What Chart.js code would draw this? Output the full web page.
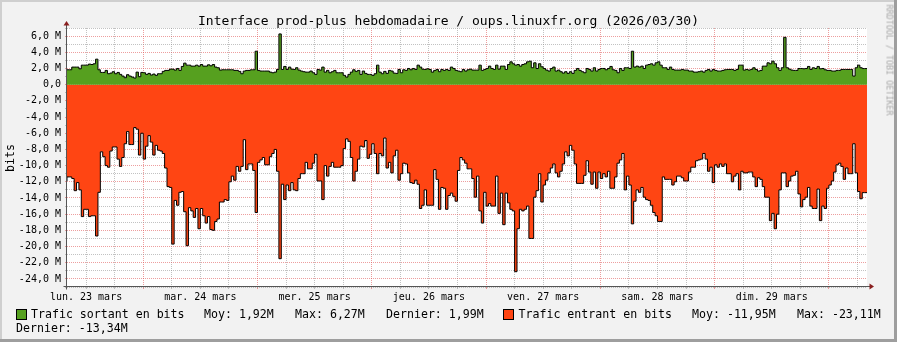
<!DOCTYPE html>
<html>
<head>
<meta charset="utf-8">
<script src="https://cdn.jsdelivr.net/npm/chart.js@4.4.1/dist/chart.umd.min.js"></script>
<style>
  html, body { margin: 0; padding: 0; background: #f2f2f2; }
  #frame { position: relative; width: 897px; height: 342px; overflow: hidden; background: #f2f2f2;
           font-family: "DejaVu Sans Mono", monospace; color: #000; }
  #c { position: absolute; left: 0; top: 0; }
  .t { position: absolute; white-space: pre; font-size: 11.6px; line-height: 12px; }
  .box { position: absolute; width: 9px; height: 9px; border: 1px solid #000; }
  .shade { position: absolute; }
</style>
</head>
<body>
<div id="frame">
  <canvas id="c" width="897" height="342"></canvas>
  <div class="shade" style="left:0;top:0;width:897px;height:2px;background:#cfcfcf"></div>
  <div class="shade" style="left:0;top:0;width:2px;height:342px;background:#cfcfcf"></div>
  <div class="shade" style="left:894px;top:0;width:3px;height:342px;background:#9e9e9e"></div>
  <div class="shade" style="left:0;top:339px;width:897px;height:3px;background:#9e9e9e"></div>

  <div id="title" style="position:absolute;left:0;top:12.5px;width:897px;text-align:center;font-size:13px;line-height:15px;white-space:pre"></div>
  <div id="ylab" style="position:absolute;left:9.5px;top:158px;font-size:11.6px;line-height:12px;transform:translate(-50%,-50%) rotate(-90deg)">bits</div>
  <div style="position:absolute;left:889px;top:60px;font-size:8.4px;line-height:9px;color:#a8a8a8;white-space:pre;transform:translate(-50%,-50%) rotate(90deg)">RRDTOOL / TOBI OETIKER</div>

  <div class="box" style="left:16px;top:309px;background:#56a01f"></div>
  <div class="t" id="l1" style="left:31px;top:307.5px"></div>
  <div class="t" id="l1a" style="left:204px;top:307.5px"></div>
  <div class="t" id="l1b" style="left:295px;top:307.5px"></div>
  <div class="t" id="l1c" style="left:386px;top:307.5px"></div>
  <div class="box" style="left:503px;top:309px;background:#ff4513"></div>
  <div class="t" id="l2" style="left:518.5px;top:307.5px"></div>
  <div class="t" id="l2a" style="left:692px;top:307.5px"></div>
  <div class="t" id="l2b" style="left:797px;top:307.5px"></div>
  <div class="t" id="l2c" style="left:16px;top:321.7px"></div>
</div>
<script>
// week graph, one value every 30 minutes, starting Monday 08:00
const stepHours = 0.5;
const startHour = 8;
const dayLabels = ["lun. 23 mars", "mar. 24 mars", "mer. 25 mars", "jeu. 26 mars",
                   "ven. 27 mars", "sam. 28 mars", "dim. 29 mars"];

// Trafic sortant (M bits)
const outValues = [
  1.84,1.84,1.84,2.17,2.17,2.17,1.96,2.41,2.41,2.41,
  2.54,2.49,2.58,3.15,1.84,1.51,1.51,1.76,1.35,1.43,
  1.60,1.35,1.51,1.27,1.06,0.86,1.23,1.06,0.94,0.82,
  1.55,0.98,1.51,1.47,1.27,1.39,1.19,1.31,1.15,1.35,
  1.35,1.64,1.76,1.76,1.92,1.92,1.80,2.00,1.76,2.25,
  2.66,2.41,2.41,2.29,2.29,2.41,2.29,2.49,2.29,2.29,
  2.45,2.33,2.49,2.17,2.09,1.80,1.84,1.84,1.84,1.84,
  1.84,1.76,1.76,1.64,1.35,1.68,1.76,1.76,1.84,1.84,
  4.13,1.76,1.68,1.68,1.68,1.68,
  1.55,1.47,1.55,1.88,6.27,1.88,2.25,1.88,2.17,1.92,
  1.88,2.09,1.80,1.68,1.60,1.55,1.55,1.68,1.47,1.27,
  1.88,1.80,2.17,1.55,1.76,1.47,1.60,1.76,1.47,1.47,
  1.47,1.15,0.94,1.27,1.55,1.84,1.64,1.76,1.27,1.68,
  1.39,1.27,1.27,1.15,1.35,2.41,1.55,1.35,1.64,1.39,
  1.76,1.68,1.43,1.39,1.88,1.47,1.84,1.76,2.00,1.84,
  2.00,1.88,2.41,2.17,1.92,1.88,1.96,1.88,1.55,1.76,
  1.88,1.60,1.88,1.76,1.88,1.76,2.17,2.00,1.76,1.68,
  1.60,1.88,1.68,1.84,1.92,
  1.80,1.80,1.80,2.41,1.76,1.88,2.00,2.29,2.00,1.88,
  2.41,1.92,2.29,2.29,1.88,2.49,2.82,2.58,2.41,2.49,
  2.29,2.49,2.58,2.82,2.90,2.09,2.70,2.00,2.58,2.21,
  2.00,1.80,1.68,2.00,2.17,1.68,1.80,1.60,1.43,1.60,
  1.39,1.60,1.39,1.76,2.00,1.76,1.60,1.47,2.00,1.88,
  1.68,2.09,1.68,1.88,2.00,2.00,1.84,2.00,2.25,1.84,
  1.76,1.47,2.00,1.76,2.09,2.09,2.00,4.13,2.17,2.29,
  2.17,2.29,2.00,2.41,2.49,2.58,2.41,2.70,2.82,2.41,
  2.09,2.09,1.88,2.17,1.88,1.80,1.80,1.80,
  1.88,1.80,1.80,1.68,1.68,1.55,1.55,1.60,1.68,1.55,
  1.76,1.88,1.68,1.88,1.76,1.68,1.68,1.76,1.84,1.88,
  1.88,1.88,1.76,1.88,2.41,2.41,1.80,1.88,1.80,1.88,
  2.09,1.88,1.68,1.76,2.29,2.29,2.70,2.58,2.90,2.58,
  2.09,1.76,2.09,5.85,2.09,1.92,1.80,1.76,1.76,2.00,
  2.00,1.96,2.00,2.25,1.88,2.09,2.00,2.25,1.96,2.00,
  1.84,1.76,1.76,1.68,1.68,1.76,1.76,1.88,1.88,1.88,
  1.88,1.88,1.06,2.09,2.41,2.09,1.99
];

// Trafic entrant (M bits, drawn negative)
const inValues = [
  -11.9,-11.4,-11.4,-11.6,-13.1,-12.1,-13.0,-16.3,-15.4,-15.4,
  -16.3,-16.2,-16.2,-18.7,-13.3,-8.3,-8.9,-10.0,-10.2,-8.2,
  -7.7,-7.7,-9.2,-10.1,-9.0,-7.3,-5.8,-7.4,-7.4,-5.3,
  -5.5,-8.7,-6.0,-9.2,-7.6,-6.3,-7.1,-8.7,-7.5,-8.1,
  -8.2,-8.5,-10.3,-12.6,-12.7,-19.7,-14.3,-14.9,-13.3,-13.2,
  -15.7,-19.9,-15.2,-15.6,-16.4,-15.3,-17.8,-15.3,-16.2,-17.1,
  -16.3,-17.9,-18.0,-16.9,-16.6,-14.5,-14.5,-14.2,-14.3,-12.0,
  -11.3,-11.8,-10.1,-10.7,-10.1,-6.8,-10.5,-9.8,-9.8,-10.6,
  -15.8,-9.6,-9.3,-9.0,-9.9,-9.9,
  -8.9,-8.5,-8.0,-10.7,-21.5,
  -12.3,-14.2,-12.4,-13.1,-12.1,-13.0,-13.1,-11.6,-11.0,-11.0,
  -9.6,-10.4,-10.4,-9.7,-8.6,-11.9,-11.9,-14.2,-10.0,-11.3,
  -10.1,-9.6,-10.2,-10.2,-10.2,-10.0,-7.9,-6.7,-7.0,-9.0,
  -11.9,-10.7,-9.2,-7.6,-7.7,-6.9,-9.1,-8.6,-7.3,-8.5,
  -11.0,-8.5,-8.8,-6.6,-10.3,-9.6,-10.9,-8.8,-8.1,-11.8,
  -11.0,-9.7,-9.8,-10.9,-12.1,-12.2,-11.8,-12.3,-15.3,-14.9,
  -13.0,-14.9,-14.9,-14.9,-10.5,-11.7,-15.4,-12.7,-12.8,-15.4,
  -13.7,-13.4,-13.8,-14.4,-10.6,-9.0,-9.3,-9.7,-10.4,-10.4,
  -11.6,-13.9,-11.3,-15.6,-17.1,-13.3,-15.0,-14.7,-15.0,-15.0,
  -11.3,-15.9,-13.4,-17.3,-13.4,-14.6,-15.4,-15.6,-23.11,-17.8,
  -15.4,-15.6,-15.4,-15.0,-19.0,-19.0,-13.9,-13.1,-11.0,-14.5,
  -12.4,-11.8,-10.9,-10.3,-9.8,-10.9,-11.4,-10.7,-9.8,-8.3,
  -8.8,-7.5,-8.1,-9.8,-12.2,-12.2,-12.2,-11.2,-9.4,-10.8,
  -12.3,-10.8,-12.8,-10.8,-11.6,-11.0,-11.4,-10.7,-12.8,-12.8,
  -11.4,-9.7,-9.3,-8.5,-13.0,-11.3,-12.4,-17.2,-14.4,-13.0,
  -13.3,-12.7,-13.9,-14.2,-14.3,-14.9,-15.8,-16.2,-16.9,-16.9,
  -11.4,-11.7,-11.7,-11.7,-12.4,-12.0,-11.3,-11.3,
  -11.5,-11.9,-11.9,-10.8,-10.2,-10.2,-9.4,-9.3,-9.2,-8.5,
  -9.2,-10.7,-10.2,-12.1,-9.9,-10.2,-9.8,-10.1,-9.8,-11.0,
  -11.0,-12.0,-11.3,-11.0,-13.0,-10.7,-10.9,-10.9,-10.8,-10.8,
  -11.4,-12.6,-11.5,-11.7,-12.6,-13.9,-13.9,-16.8,-15.9,-17.8,
  -16.0,-13.0,-10.9,-10.9,-12.6,-11.9,-11.3,-11.2,-10.7,-13.5,
  -15.1,-14.2,-13.9,-12.7,-15.0,-15.3,-15.3,-12.9,-16.8,-15.0,
  -15.3,-12.8,-12.4,-11.9,-10.8,-9.9,-9.7,-10.1,-11.7,-10.3,
  -11.0,-11.0,-7.3,-10.9,-13.2,-14.1,-13.34
];

const outLabel = "Trafic sortant en bits";
const inLabel = "Trafic entrant en bits";
const outStats = ["Moy: 1,92M", "Max: 6,27M", "Dernier: 1,99M"];
const inStats = ["Moy: -11,95M", "Max: -23,11M", "Dernier: -13,34M"];

document.getElementById("title").textContent = "Interface prod-plus hebdomadaire / oups.linuxfr.org (2026/03/30)";
document.getElementById("l1").textContent = outLabel;
document.getElementById("l1a").textContent = outStats[0];
document.getElementById("l1b").textContent = outStats[1];
document.getElementById("l1c").textContent = outStats[2];
document.getElementById("l2").textContent = inLabel;
document.getElementById("l2a").textContent = inStats[0];
document.getElementById("l2b").textContent = inStats[1];
document.getElementById("l2c").textContent = inStats[2];

const GRID = "rgba(143,143,143,0.55)";
const MGRID = "rgba(222,79,79,0.55)";
const mono = "'DejaVu Sans Mono', monospace";

function toPoints(vals) {
  const pts = vals.map((v, i) => ({ x: i * stepHours, y: v }));
  pts.push({ x: vals.length * stepHours, y: vals[vals.length - 1] });
  return pts;
}

const totalHours = outValues.length * stepHours;
const gridHours = [];
for (let h = 4; h < totalHours; h += 6) gridHours.push(h);
const gridValues = [];
for (let v = -25; v <= 7; v++) gridValues.push(v);

const decor = {
  id: "decor",
  beforeDraw(chart) {
    const { ctx, chartArea: a } = chart;
    ctx.save();
    ctx.fillStyle = "#fff";
    ctx.fillRect(a.left, a.top, a.right - a.left, a.bottom - a.top);
    ctx.restore();
  },
  afterDatasetsDraw(chart) {
    const { ctx, chartArea: a } = chart;
    const x0 = Math.round(a.left) - 0.5;
    const y0 = Math.round(a.bottom) - 0.5;
    ctx.save();
    ctx.strokeStyle = "#555";
    ctx.lineWidth = 1;
    ctx.beginPath();
    ctx.moveTo(x0, y0 + 3);
    ctx.lineTo(x0, a.top - 4);
    ctx.moveTo(x0 - 3, y0);
    ctx.lineTo(a.right + 4, y0);
    ctx.stroke();
    ctx.fillStyle = "#8a1f1f";
    ctx.beginPath();
    ctx.moveTo(x0, a.top - 7);
    ctx.lineTo(x0 - 3, a.top - 2.5);
    ctx.lineTo(x0 + 3, a.top - 2.5);
    ctx.closePath();
    ctx.fill();
    ctx.beginPath();
    ctx.moveTo(a.right + 7, y0);
    ctx.lineTo(a.right + 2.5, y0 - 3);
    ctx.lineTo(a.right + 2.5, y0 + 3);
    ctx.closePath();
    ctx.fill();
    ctx.restore();
  }
};

new Chart(document.getElementById("c"), {
  type: "line",
  data: {
    datasets: [
      {
        label: outLabel,
        data: toPoints(outValues),
        stepped: "after",
        fill: "origin",
        backgroundColor: "#56a01f",
        borderColor: "#000",
        borderWidth: 1,
        pointRadius: 0,
      },
      {
        label: inLabel,
        data: toPoints(inValues),
        stepped: "after",
        fill: "origin",
        backgroundColor: "#ff4513",
        borderColor: "#000",
        borderWidth: 1,
        pointRadius: 0,
      },
    ],
  },
  options: {
    responsive: false,
    animation: false,
    devicePixelRatio: 1,
    layout: { padding: { top: 28, right: 30, bottom: 0, left: 0 } },
    plugins: { legend: { display: false }, tooltip: { enabled: false }, title: { display: false } },
    scales: {
      x: {
        type: "linear",
        min: 0,
        max: totalHours,
        afterBuildTicks: (s) => { s.ticks = gridHours.map((v) => ({ value: v })); },
        afterFit: (s) => { s.height = 55; },
        ticks: {
          autoSkip: false,
          maxRotation: 0,
          minRotation: 0,
          padding: 2,
          color: "#000",
          font: { family: mono, size: 10 },
          callback: (v) => ((v + startHour) % 24 === 12 ? dayLabels[Math.floor((v + startHour) / 24)] : ""),
        },
        grid: {
          color: (c) => (c.tick && (c.tick.value + startHour) % 24 === 0 ? MGRID : GRID),
          lineWidth: 1,
          tickLength: 2,
        },
        border: { display: false, dash: [1, 1] },
      },
      y: {
        type: "linear",
        min: -25,
        max: 7,
        afterBuildTicks: (s) => { s.ticks = gridValues.map((v) => ({ value: v })); },
        afterFit: (s) => { s.width = 67; },
        ticks: {
          autoSkip: false,
          padding: 4,
          color: "#000",
          font: { family: mono, size: 10 },
          callback: (v) => (v % 2 !== 0 ? "" : v === 0 ? "0,0" : v.toFixed(1).replace(".", ",") + " M"),
        },
        grid: {
          color: (c) => (c.tick && c.tick.value % 2 === 0 ? MGRID : GRID),
          lineWidth: 1,
          tickLength: 2,
        },
        border: { display: false, dash: [1, 1] },
      },
    },
  },
  plugins: [decor],
});
</script>
</body>
</html>
